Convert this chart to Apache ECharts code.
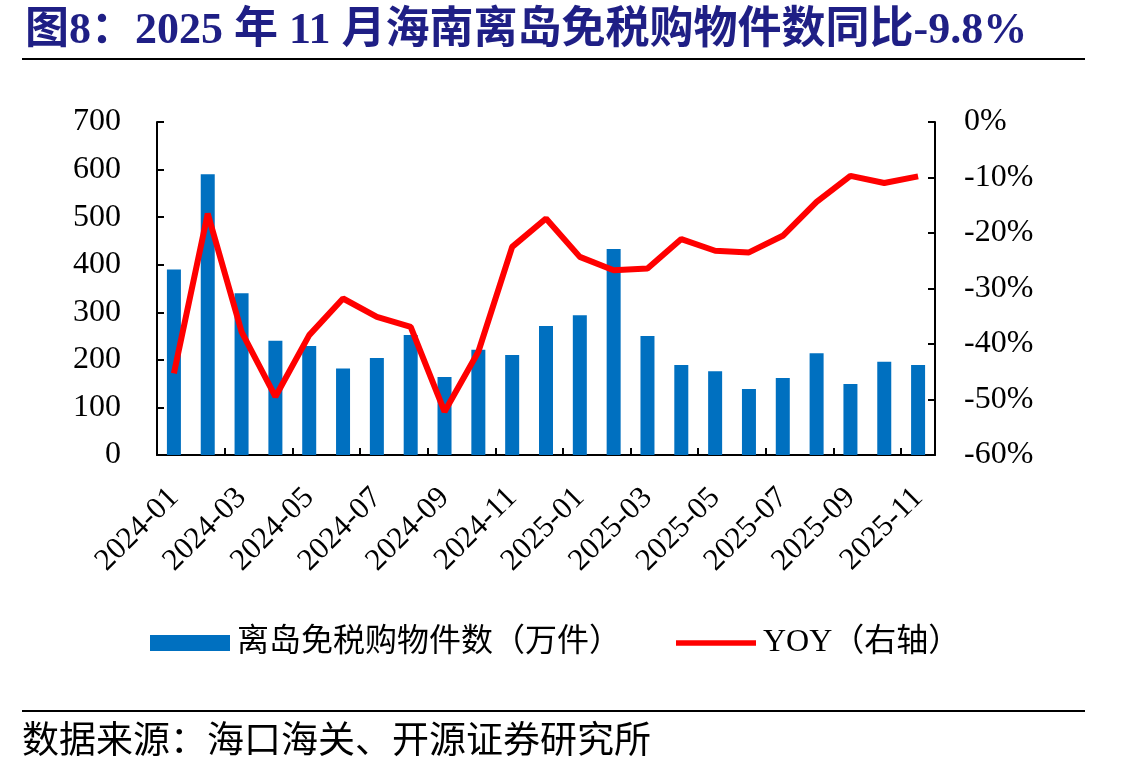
<!DOCTYPE html>
<html lang="zh">
<head>
    <meta charset="UTF-8">
    <title>海南离岛免税购物件数</title>
    <style>
        html, body { margin: 0; padding: 0; background: #fff; }
        #container { width: 1137px; height: 778px; }
    </style>
</head>
<body>
    <div id="container"></div>
    <script src="https://cdn.jsdelivr.net/npm/echarts@6/dist/echarts.min.js"></script>
    <script>
        var months = ['2024-01', '2024-02', '2024-03', '2024-04', '2024-05', '2024-06', '2024-07', '2024-08',
            '2024-09', '2024-10', '2024-11', '2024-12', '2025-01', '2025-02', '2025-03', '2025-04',
            '2025-05', '2025-06', '2025-07', '2025-08', '2025-09', '2025-10', '2025-11'];
        // 离岛免税购物件数（万件）
        var pieces = [390, 590, 340, 240, 229, 182, 204, 252, 164, 221, 210, 271,
            294, 433, 250, 189, 176, 139, 162, 214, 149, 196, 189];
        // YOY (%)
        var yoy = [-45.3, -16.5, -37.8, -49.5, -38.4, -31.8, -35.1, -36.9, -52.2, -41.4, -22.5, -17.4,
            -24.3, -26.7, -26.4, -21.1, -23.2, -23.5, -20.5, -14.4, -9.7, -11.0, -9.8];

        var serif = '"Liberation Serif", "Noto Sans CJK SC", serif';
        var ec = echarts.init(document.querySelector('#container'));

        var axisLine = { show: true, lineStyle: { color: '#000', width: 2 } };
        var axisTick = { show: true, inside: true, length: 7, lineStyle: { color: '#000', width: 2 } };

        ec.setOption({
            backgroundColor: '#fff',
            animation: false,
            title: {
                text: '图8：2025 年 11 月海南离岛免税购物件数同比-9.8%',
                left: 20,
                top: 5,
                textStyle: { fontFamily: serif, fontSize: 44, fontWeight: 'bold', color: '#1f1f85' }
            },
            legend: {
                left: 145,
                top: 622,
                itemWidth: 80,
                itemHeight: 16,
                itemGap: 55,
                textStyle: { fontFamily: serif, fontSize: 32, color: '#000', padding: [0, 0, 0, 2] },
                data: [
                    { name: '离岛免税购物件数（万件）', icon: 'rect' },
                    { name: 'YOY（右轴）', icon: 'path://M0,0 L86,0 L86,6 L0,6 Z' }
                ]
            },
            grid: { left: 157, right: 202, top: 122, bottom: 323 },
            xAxis: {
                type: 'category',
                data: months,
                boundaryGap: true,
                axisLine: axisLine,
                axisTick: Object.assign({ interval: 1 }, axisTick),
                axisLabel: {
                    interval: 1,
                    rotate: 45,
                    margin: 38,
                    fontFamily: serif,
                    fontSize: 31,
                    color: '#000'
                }
            },
            yAxis: [{
                type: 'value',
                min: 0,
                max: 700,
                interval: 100,
                splitLine: { show: false },
                axisLine: axisLine,
                axisTick: axisTick,
                axisLabel: { fontFamily: serif, fontSize: 32, color: '#000', margin: 36 }
            }, {
                type: 'value',
                min: -60,
                max: 0,
                interval: 10,
                position: 'right',
                splitLine: { show: false },
                axisLine: axisLine,
                axisTick: axisTick,
                axisLabel: { fontFamily: serif, fontSize: 32, color: '#000', margin: 29, formatter: '{value}%' }
            }],
            series: [{
                name: '离岛免税购物件数（万件）',
                type: 'bar',
                data: pieces,
                barWidth: 14,
                itemStyle: { color: '#0070c0' }
            }, {
                name: 'YOY（右轴）',
                type: 'line',
                yAxisIndex: 1,
                data: yoy,
                symbol: 'none',
                lineStyle: { color: '#ff0000', width: 6 },
                itemStyle: { color: '#ff0000' }
            }],
            graphic: [
                { type: 'rect', shape: { x: 22, y: 58, width: 1063, height: 2 }, style: { fill: '#000' } },
                { type: 'rect', shape: { x: 22, y: 710, width: 1063, height: 2 }, style: { fill: '#000' } },
                {
                    type: 'text', left: 22, top: 725,
                    style: { text: '数据来源：海口海关、开源证券研究所', font: '37px ' + serif, fill: '#000' }
                }
            ]
        });
    </script>
</body>
</html>
